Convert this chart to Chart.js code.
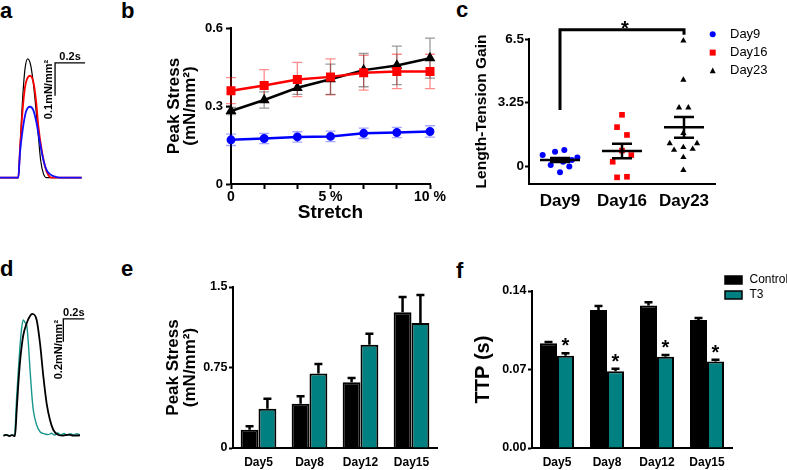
<!DOCTYPE html>
<html>
<head>
<meta charset="utf-8">
<script src="https://cdn.jsdelivr.net/npm/chart.js@4.4.1/dist/chart.umd.min.js"></script>
<style>
  body { margin: 0; background: #fff; width: 787px; height: 470px; position: relative; overflow: hidden; font-family: 'Liberation Sans', Arial, sans-serif; }
  canvas { position: absolute; }
  .letter { position: absolute; font-weight: bold; font-size: 22px; line-height: 22px; }
</style>
</head>
<body>
<div class="letter" style="left:0px;top:0px">a</div>
<div class="letter" style="left:121px;top:0px">b</div>
<div class="letter" style="left:456px;top:-1px">c</div>
<div class="letter" style="left:0px;top:258px">d</div>
<div class="letter" style="left:121px;top:258px">e</div>
<div class="letter" style="left:456px;top:260px">f</div>

<canvas id="chartA" width="90" height="130" style="left:0px;top:50px"></canvas>
<canvas id="chartB" width="320" height="230" style="left:140px;top:0px"></canvas>
<canvas id="chartC" width="357" height="230" style="left:430px;top:0px"></canvas>
<canvas id="chartD" width="90" height="140" style="left:0px;top:300px"></canvas>
<canvas id="chartE" width="320" height="240" style="left:140px;top:230px"></canvas>
<canvas id="chartF" width="357" height="240" style="left:430px;top:230px"></canvas>

<script>
// ---- data ----
// panel a: twitch traces [time (s), stress (mN/mm2)]
const traceDay23 = [[0,0],[0.122,0],[0.133,0.084],[0.144,0.185],[0.156,0.275],[0.167,0.331],[0.184,0.36],[0.204,0.342],[0.222,0.287],[0.24,0.206],[0.256,0.125],[0.271,0.053],[0.289,0.013],[0.311,0],[0.544,0]];
const traceDay16 = [[0,0],[0.122,0],[0.133,0.084],[0.151,0.206],[0.167,0.275],[0.182,0.301],[0.2,0.309],[0.222,0.291],[0.24,0.235],[0.256,0.155],[0.278,0.084],[0.3,0.034],[0.322,0.008],[0.344,0],[0.544,0]];
const traceDay9 = [[0,0],[0.122,0],[0.133,0.074],[0.151,0.145],[0.173,0.2],[0.2,0.215],[0.222,0.205],[0.244,0.165],[0.267,0.104],[0.289,0.054],[0.311,0.023],[0.333,0.011],[0.367,0.003],[0.4,0],[0.544,0]];

// panel d: control vs T3 traces
const traceControl = [[0.032,0.004],[0.06,0.01],[0.09,0],[0.115,0.008],[0.143,0],[0.159,0.229],[0.175,0.464],[0.19,0.646],[0.206,0.787],[0.222,0.89],[0.254,0.993],[0.286,1.057],[0.308,1.075],[0.349,1.022],[0.381,0.817],[0.413,0.523],[0.444,0.288],[0.476,0.141],[0.508,0.053],[0.556,0.009],[0.6,0.004],[0.65,0.012],[0.7,0.003],[0.762,0.006]];
const traceT3 = [[0.032,0.006],[0.06,0.012],[0.09,0.002],[0.115,0.01],[0.137,0.003],[0.159,0.347],[0.175,0.581],[0.19,0.787],[0.206,0.949],[0.222,1.022],[0.238,1.0],[0.254,0.978],[0.27,0.817],[0.286,0.582],[0.302,0.376],[0.317,0.229],[0.349,0.097],[0.381,0.038],[0.429,0.018],[0.46,0.012],[0.49,0.024],[0.52,0.008],[0.55,0.026],[0.58,0.01],[0.61,0.022],[0.64,0.006],[0.67,0.02],[0.7,0.01],[0.73,0.02],[0.762,0.012]];

// panel b: peak stress vs stretch
const stretchLabels = ['0', '', '', '5 %', '', '', '10 %'];
const stressTicks = [0, 0.3, 0.6];
const stretchDay9 = [0.170, 0.175, 0.181, 0.183, 0.195, 0.198, 0.202];
const stretchDay9Err = [0.022, 0.02, 0.02, 0.02, 0.02, 0.02, 0.022];
const stretchDay16 = [0.359, 0.379, 0.402, 0.412, 0.428, 0.433, 0.433];
const stretchDay16Err = [0.05, 0.061, 0.066, 0.069, 0.067, 0.066, 0.066];
const stretchDay23 = [0.281, 0.323, 0.370, 0.403, 0.438, 0.456, 0.484];
const stretchDay23Err = [0.014, 0.031, 0.025, 0.058, 0.064, 0.074, 0.077];

// panel c: length-tension gain
const gainGroups = ['Day9', 'Day16', 'Day23'];
const gainTicks = [0, 3.25, 6.5];
const gainTickLabels = ['0', '3.25', '6.5'];
const gainDay9 = [{x:0.72,y:0.56},{x:0.92,y:0.73},{x:1.07,y:0.82},{x:1.28,y:0.43},{x:0.85,y:0.05},{x:1.0,y:-0.32},{x:1.15,y:-0.03},{x:0.89,y:0.31},{x:1.05,y:0.22},{x:1.19,y:0.31}];
const gainDay16 = [{x:2.0,y:2.62},{x:1.92,y:1.99},{x:2.08,y:1.59},{x:1.85,y:0.22},{x:2.15,y:0.56},{x:2.0,y:0.79},{x:1.92,y:-0.58},{x:2.08,y:-0.55}];
const gainDay23 = [{x:2.99,y:6.41},{x:2.99,y:4.41},{x:2.92,y:2.99},{x:3.07,y:2.99},{x:2.99,y:1.68},{x:2.77,y:1.16},{x:3.21,y:1.16},{x:2.84,y:0.82},{x:2.99,y:0.96},{x:3.14,y:0.87},{x:2.99,y:0.45},{x:2.99,y:-0.21}];
const gainMean = [0.31, 0.77, 1.98];
const gainSem = [0.1, 0.37, 0.53];
const gainSig = {from: 1, to: 3, top: 6.97, leftEnd: 2.87, rightEnd: 6.72};

// panels e, f: control vs T3
const t3Days = ['Day5', 'Day8', 'Day12', 'Day15'];
const peakTicks = [0, 0.75, 1.5];
const peakTickLabels = ['0', '0.75', '1.5'];
const peakControl = [0.171, 0.413, 0.612, 1.264];
const peakControlErr = [0.031, 0.068, 0.04, 0.143];
const peakT3 = [0.366, 0.693, 0.963, 1.165];
const peakT3Err = [0.094, 0.09, 0.102, 0.26];
const ttpTicks = [0, 0.07, 0.14];
const ttpTickLabels = ['0.00', '0.07', '0.14'];
const ttpControl = [0.0934, 0.123, 0.127, 0.1142];
const ttpControlErr = [0.0012, 0.0037, 0.003, 0.0018];
const ttpT3 = [0.0822, 0.0685, 0.0813, 0.0771];
const ttpT3Err = [0.0023, 0.0021, 0.0017, 0.0015];

// ---- defaults ----
const FONT = "'Liberation Sans', Arial, sans-serif";
Chart.defaults.font.family = FONT;
Chart.defaults.color = '#000';
Chart.defaults.animation = false;
Chart.defaults.plugins.legend.display = false;
Chart.defaults.plugins.tooltip.enabled = false;

const TEAL = '#008080';

// ---- plugins ----
function drawErrors(chart) {
  const ctx = chart.ctx, yScale = chart.scales.y;
  chart.data.datasets.forEach((ds, i) => {
    if (!ds.errors) return;
    const meta = chart.getDatasetMeta(i);
    ctx.save();
    ctx.strokeStyle = ds.errorColor || '#000';
    ctx.lineWidth = ds.errorWidth || 2;
    meta.data.forEach((el, j) => {
      const v = ds.data[j], e = ds.errors[j];
      const top = yScale.getPixelForValue(v + e);
      const bot = ds.errorUpOnly ? el.y : yScale.getPixelForValue(v - e);
      const w = ds.errorCap / 2;
      ctx.beginPath();
      ctx.moveTo(el.x, bot); ctx.lineTo(el.x, top);
      ctx.moveTo(el.x - w, top); ctx.lineTo(el.x + w, top);
      if (!ds.errorUpOnly) { ctx.moveTo(el.x - w, bot); ctx.lineTo(el.x + w, bot); }
      ctx.stroke();
    });
    ctx.restore();
  });
}
const errorBars = {
  id: 'errorBars',
  beforeDatasetsDraw(chart) { if (chart.config.type === 'line') drawErrors(chart); },
  afterDatasetsDraw(chart) { if (chart.config.type !== 'line') drawErrors(chart); }
};

function drawMarker(ctx, style, x, y, r, color) {
  ctx.fillStyle = color;
  ctx.beginPath();
  if (style === 'rect') ctx.rect(x - r, y - r, 2 * r, 2 * r);
  else if (style === 'triangle') { ctx.moveTo(x, y - r * 1.1); ctx.lineTo(x + r, y + r * 0.8); ctx.lineTo(x - r, y + r * 0.8); ctx.closePath(); }
  else ctx.arc(x, y, r, 0, Math.PI * 2);
  ctx.fill();
}

const panelLegend = {
  id: 'panelLegend',
  afterDraw(chart, args, o) {
    const ctx = chart.ctx;
    ctx.save();
    ctx.font = o.font;
    ctx.textBaseline = 'middle';
    chart.data.datasets.forEach((ds, i) => {
      const y = o.y + i * o.gap;
      if (o.box) {
        ctx.fillStyle = ds.backgroundColor;
        ctx.fillRect(o.x, y - 4, 17, 8);
        ctx.strokeStyle = '#000'; ctx.lineWidth = 1.5;
        ctx.strokeRect(o.x, y - 4, 17, 8);
      } else {
        drawMarker(ctx, ds.pointStyle, o.x, y, o.markerSize, ds.backgroundColor);
      }
      ctx.fillStyle = '#000';
      ctx.fillText(ds.label, o.textX, y);
    });
    ctx.restore();
  }
};

const scaleBar = {
  id: 'scaleBar',
  afterDraw(chart, args, o) {
    const {ctx, scales: {x, y}} = chart;
    const x0 = x.getPixelForValue(o.t), x1 = x.getPixelForValue(o.t + o.dt);
    const y0 = y.getPixelForValue(o.v), y1 = y.getPixelForValue(o.v + o.dv);
    ctx.save();
    ctx.strokeStyle = '#000'; ctx.lineWidth = 1.3;
    ctx.beginPath(); ctx.moveTo(x0, y0); ctx.lineTo(x0, y1); ctx.lineTo(x1, y1); ctx.stroke();
    ctx.fillStyle = '#000';
    ctx.font = 'bold 11px ' + FONT;
    ctx.textAlign = 'center'; ctx.textBaseline = 'alphabetic';
    ctx.fillText(o.tLabel, (x0 + x1) / 2, y1 - 2.5);
    ctx.translate(x0 - o.gap, y1 + o.shift);
    ctx.rotate(-Math.PI / 2);
    ctx.textAlign = 'right'; ctx.textBaseline = 'middle';
    ctx.fillText(o.vLabel, 0, 0);
    ctx.restore();
  }
};

const meanSem = {
  id: 'meanSem',
  afterDatasetsDraw(chart) {
    const {ctx, scales: {x, y}} = chart;
    ctx.save();
    ctx.strokeStyle = '#000'; ctx.lineWidth = 2.5;
    gainMean.forEach((m, i) => {
      const cx = x.getPixelForValue(i + 1);
      const pm = y.getPixelForValue(m);
      const hi = y.getPixelForValue(m + gainSem[i]), lo = y.getPixelForValue(m - gainSem[i]);
      ctx.beginPath();
      ctx.moveTo(cx - 20, pm); ctx.lineTo(cx + 20, pm);
      ctx.moveTo(cx, hi); ctx.lineTo(cx, lo);
      ctx.moveTo(cx - 10, hi); ctx.lineTo(cx + 10, hi);
      ctx.moveTo(cx - 10, lo); ctx.lineTo(cx + 10, lo);
      ctx.stroke();
    });
    // significance bracket Day9 vs Day23
    const xa = x.getPixelForValue(gainSig.from), xb = x.getPixelForValue(gainSig.to);
    const yt = y.getPixelForValue(gainSig.top);
    ctx.lineWidth = 3;
    ctx.beginPath();
    ctx.moveTo(xa, y.getPixelForValue(gainSig.leftEnd));
    ctx.lineTo(xa, yt); ctx.lineTo(xb, yt);
    ctx.lineTo(xb, y.getPixelForValue(gainSig.rightEnd));
    ctx.stroke();
    ctx.fillStyle = '#000';
    ctx.font = 'bold 20px ' + FONT;
    ctx.textAlign = 'center'; ctx.textBaseline = 'alphabetic';
    ctx.fillText('*', (xa + xb) / 2 + 3, yt + 5);
    ctx.restore();
  }
};

const starT3 = {
  id: 'starT3',
  afterDatasetsDraw(chart) {
    const {ctx, scales: {y}} = chart;
    const meta = chart.getDatasetMeta(1);
    ctx.save();
    ctx.fillStyle = '#000';
    ctx.font = 'bold 20px ' + FONT;
    ctx.textAlign = 'center'; ctx.textBaseline = 'alphabetic';
    meta.data.forEach((el, j) => {
      const top = y.getPixelForValue(ttpT3[j] + ttpT3Err[j]);
      ctx.fillText('*', el.x, top - 1);
    });
    ctx.restore();
  }
};

// ---- trace panels ----
function traceOptions(xmax, ymin, ymax, bar) {
  return {
    responsive: false,
    layout: { padding: 0 },
    elements: { point: { radius: 0 }, line: { cubicInterpolationMode: 'monotone' } },
    scales: {
      x: { type: 'linear', min: 0, max: xmax, display: false },
      y: { type: 'linear', min: ymin, max: ymax, display: false }
    },
    plugins: { scaleBar: bar }
  };
}

new Chart(document.getElementById('chartA'), {
  type: 'scatter',
  data: {
    datasets: [
      { data: traceDay9, showLine: true, borderColor: '#1010ff', borderWidth: 1.8, clip: false },
      { data: traceDay16, showLine: true, borderColor: '#ff0000', borderWidth: 1.8, clip: false },
      { data: traceDay23, showLine: true, borderColor: '#000', borderWidth: 1.2, clip: false }
    ]
  },
  options: traceOptions(0.6, -0.007, 0.387, { t: 0.367, v: 0.248, dt: 0.2, dv: 0.1, tLabel: '0.2s', vLabel: '0.1mN/mm²', gap: 6.5, shift: -3 }),
  plugins: [scaleBar]
});

new Chart(document.getElementById('chartD'), {
  type: 'scatter',
  data: {
    datasets: [
      { data: traceControl, showLine: true, borderColor: '#000', borderWidth: 1.8, clip: false },
      { data: traceT3, showLine: true, borderColor: '#17968e', borderWidth: 1.4, clip: false }
    ]
  },
  options: traceOptions(0.857, -0.035, 1.198, { t: 0.603, v: 0.831, dt: 0.2, dv: 0.2, tLabel: '0.2s', vLabel: '0.2mN/mm²', gap: 4.5, shift: 1 }),
  plugins: [scaleBar]
});

// ---- panel b ----
new Chart(document.getElementById('chartB'), {
  type: 'line',
  data: {
    labels: stretchLabels,
    datasets: [
      { label: 'Day9', data: stretchDay9, errors: stretchDay9Err, errorColor: 'rgba(0,0,255,0.35)', errorWidth: 1.3, errorCap: 10,
        borderColor: '#0000ff', backgroundColor: '#0000ff', pointStyle: 'circle', pointRadius: 3.2, borderWidth: 2.5, clip: false },
      { label: 'Day16', data: stretchDay16, errors: stretchDay16Err, errorColor: 'rgba(255,0,0,0.45)', errorWidth: 1.3, errorCap: 10,
        borderColor: '#ff0000', backgroundColor: '#ff0000', pointStyle: 'rect', pointRadius: 4.6, borderWidth: 2.5, clip: false },
      { label: 'Day23', data: stretchDay23, errors: stretchDay23Err, errorColor: 'rgba(0,0,0,0.4)', errorWidth: 1.3, errorCap: 10,
        borderColor: '#000', backgroundColor: '#000', pointStyle: 'triangle', pointRadius: 3.8, borderWidth: 2.5, clip: false }
    ]
  },
  options: {
    responsive: false,
    layout: { padding: { top: 28, right: 30, bottom: 0, left: 0 } },
    scales: {
      x: {
        grid: { display: true, drawOnChartArea: false, drawTicks: true, tickLength: 5, tickColor: '#000', tickWidth: 2 },
        border: { color: '#000', width: 2 },
        ticks: { autoSkip: false, maxRotation: 0, padding: 0, font: { size: 14, weight: 'bold' } },
        title: { display: true, text: 'Stretch', font: { size: 19, weight: 'bold' }, padding: { top: 0, bottom: 5.6 } },
        afterFit: s => { s.height = 46; }
      },
      y: {
        min: 0, max: 0.6,
        afterBuildTicks: s => { s.ticks = stressTicks.map(v => ({ value: v })); },
        grid: { display: true, drawOnChartArea: false, drawTicks: true, tickLength: 5, tickColor: '#000', tickWidth: 2 },
        border: { color: '#000', width: 2 },
        ticks: { padding: 3, font: { size: 13, weight: 'bold' } },
        title: { display: true, text: ['Peak Stress', '(mN/mm²)'], font: { size: 17, weight: 'bold', lineHeight: 0.94 }, padding: { top: 26.5, bottom: 0 } },
        afterFit: s => { s.width = 91; }
      }
    }
  },
  plugins: [errorBars]
});

// ---- panel c ----
new Chart(document.getElementById('chartC'), {
  type: 'scatter',
  data: {
    datasets: [
      { label: 'Day9', data: gainDay9, pointStyle: 'circle', pointRadius: 3, borderWidth: 0, backgroundColor: '#0000ff', borderColor: '#0000ff', clip: false },
      { label: 'Day16', data: gainDay16, pointStyle: 'rect', pointRadius: 4, borderWidth: 0, backgroundColor: '#ff0000', borderColor: '#ff0000', clip: false },
      { label: 'Day23', data: gainDay23, pointStyle: 'triangle', pointRadius: 3.6, borderWidth: 0, backgroundColor: '#000', borderColor: '#000', clip: false }
    ]
  },
  options: {
    responsive: false,
    layout: { padding: { top: 39, right: 72, bottom: 0, left: 0 } },
    scales: {
      x: {
        min: 0.5, max: 3.5,
        afterBuildTicks: s => { s.ticks = gainGroups.map((g, i) => ({ value: i + 1 })); },
        grid: { display: true, drawOnChartArea: false, drawTicks: false },
        border: { color: '#000', width: 2 },
        ticks: { padding: 7.5, callback: (v, i) => gainGroups[i], font: { size: 17, weight: 'bold' } },
        afterFit: s => { s.height = 46; }
      },
      y: {
        min: -0.92, max: 6.5,
        afterBuildTicks: s => { s.ticks = gainTicks.map(v => ({ value: v })); },
        grid: { display: true, drawOnChartArea: false, drawTicks: true, tickLength: 4, tickColor: '#000', tickWidth: 2 },
        border: { color: '#000', width: 2 },
        ticks: { padding: 1, callback: (v, i) => gainTickLabels[i], font: { size: 13.5, weight: 'bold' } },
        title: { display: true, text: 'Length-Tension Gain', font: { size: 15.5, weight: 'bold' }, padding: { top: 42.4, bottom: 0 } },
        afterFit: s => { s.width = 99; }
      }
    },
    plugins: {
      panelLegend: { x: 282.7, textX: 300, y: 34.3, gap: 18.3, markerSize: 3, font: '13px ' + FONT }
    }
  },
  plugins: [meanSem, panelLegend]
});

// ---- panels e, f ----
function barScales(ticks, tickLabels, ymax, title, titleFont, titlePad, yWidth) {
  return {
    x: {
      grid: { display: true, drawOnChartArea: false, drawTicks: false },
      border: { color: '#000', width: 2 },
      ticks: { padding: 7, font: { size: 12, weight: 'bold' } },
      afterFit: s => { s.height = 22; }
    },
    y: {
      min: 0, max: ymax,
      afterBuildTicks: s => { s.ticks = ticks.map(v => ({ value: v })); },
      grid: { display: true, drawOnChartArea: false, drawTicks: true, tickLength: 4, tickColor: '#000', tickWidth: 2 },
      border: { color: '#000', width: 2 },
      ticks: { padding: 1.5, callback: (v, i) => tickLabels[i], font: { size: 12.5, weight: 'bold' } },
      title: { display: true, text: title, font: titleFont, padding: { top: titlePad, bottom: 0 } },
      afterFit: s => { s.width = yWidth; }
    }
  };
}

new Chart(document.getElementById('chartE'), {
  type: 'bar',
  data: {
    labels: t3Days,
    datasets: [
      { label: 'Control', data: peakControl, errors: peakControlErr, errorUpOnly: true, errorWidth: 2.5, errorCap: 8,
        backgroundColor: '#000', borderColor: '#000', borderWidth: 2 },
      { label: 'T3', data: peakT3, errors: peakT3Err, errorUpOnly: true, errorWidth: 2.5, errorCap: 8,
        backgroundColor: TEAL, borderColor: '#000', borderWidth: 2 }
    ]
  },
  options: {
    responsive: false,
    layout: { padding: { top: 57, right: 23, bottom: 0, left: 0 } },
    datasets: { bar: { categoryPercentage: 0.7, barPercentage: 1 } },
    scales: barScales(peakTicks, peakTickLabels, 1.5, ['Peak Stress', '(mN/mm²)'], { size: 17, weight: 'bold', lineHeight: 0.98 }, 25, 93)
  },
  plugins: [errorBars]
});

new Chart(document.getElementById('chartF'), {
  type: 'bar',
  data: {
    labels: t3Days,
    datasets: [
      { label: 'Control', data: ttpControl, errors: ttpControlErr, errorUpOnly: true, errorWidth: 2.5, errorCap: 8,
        backgroundColor: '#000', borderColor: '#000', borderWidth: 2 },
      { label: 'T3', data: ttpT3, errors: ttpT3Err, errorUpOnly: true, errorWidth: 2.5, errorCap: 8,
        backgroundColor: TEAL, borderColor: '#000', borderWidth: 2 }
    ]
  },
  options: {
    responsive: false,
    layout: { padding: { top: 61, right: 55, bottom: 0, left: 0 } },
    datasets: { bar: { categoryPercentage: 0.68, barPercentage: 1 } },
    scales: barScales(ttpTicks, ttpTickLabels, 0.14, 'TTP (s)', { size: 20, weight: 'bold' }, 41.3, 102),
    plugins: {
      panelLegend: { box: true, x: 295, textX: 319.5, y: 50, gap: 15, font: '12px ' + FONT }
    }
  },
  plugins: [errorBars, starT3, panelLegend]
});
</script>
</body>
</html>
